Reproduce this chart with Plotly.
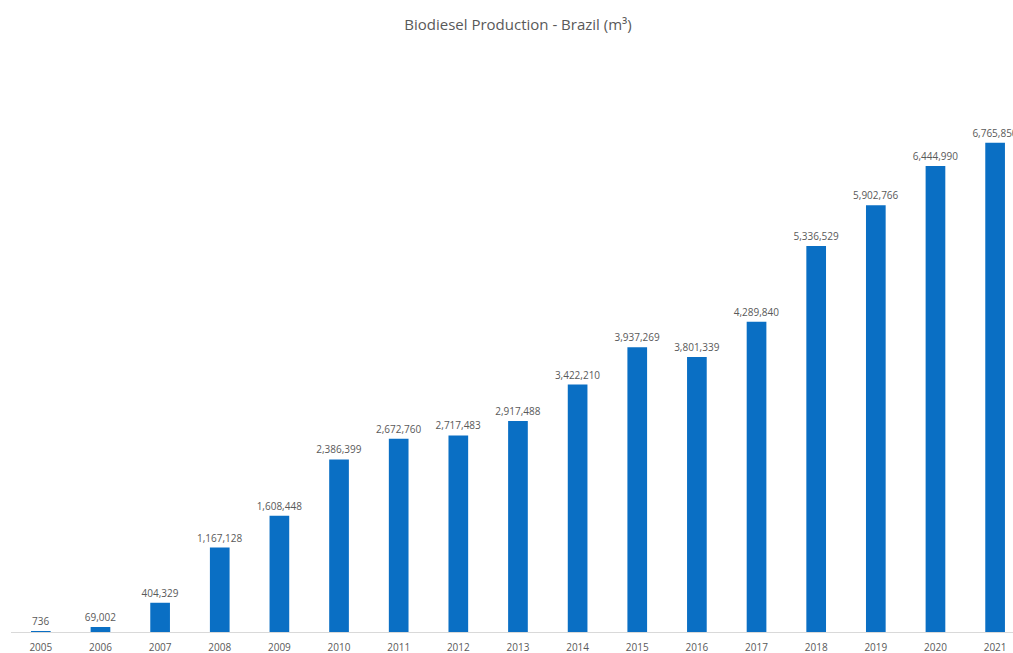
import plotly.graph_objects as go

years = ["2005", "2006", "2007", "2008", "2009", "2010", "2011", "2012", "2013",
         "2014", "2015", "2016", "2017", "2018", "2019", "2020", "2021"]
production = [736, 69002, 404329, 1167128, 1608448, 2386399, 2672760, 2717483, 2917488,
              3422210, 3937269, 3801339, 4289840, 5336529, 5902766, 6444990, 6765850]
labels = [f"{v:,}" for v in production]

fig = go.Figure(go.Bar(
    x=years, y=production, text=labels, textposition="outside",
    textfont=dict(size=10, color="#595959", family="Open Sans"),
    constraintext="none",
    marker=dict(color="#0A6FC4", line=dict(width=0)),
    cliponaxis=False,
))

fig.update_layout(
    width=1013, height=653,
    paper_bgcolor="white", plot_bgcolor="white",
    margin=dict(l=11, r=0, t=60, b=21),
    bargap=0.67,
    showlegend=False,
    title=dict(text="Biodiesel Production - Brazil (m³)", x=518/1013, xanchor="center",
               y=1 - 25/653, yanchor="middle",
               font=dict(size=15, color="#595959", family="Open Sans")),
    font=dict(family="Open Sans", color="#595959"),
)
fig.update_xaxes(range=[-0.5, 16.3], showline=True, linecolor="#D9D9D9", linewidth=1,
                 ticks="", ticklabelstandoff=6,
                 tickfont=dict(size=10, color="#595959"), showgrid=False)
fig.update_yaxes(range=[0, 7.91e6], visible=False, showgrid=False, zeroline=False)

fig.write_html("out.html", config={"displayModeBar": False},
               post_script="document.body.style.margin='0';document.body.style.overflow='hidden';")
